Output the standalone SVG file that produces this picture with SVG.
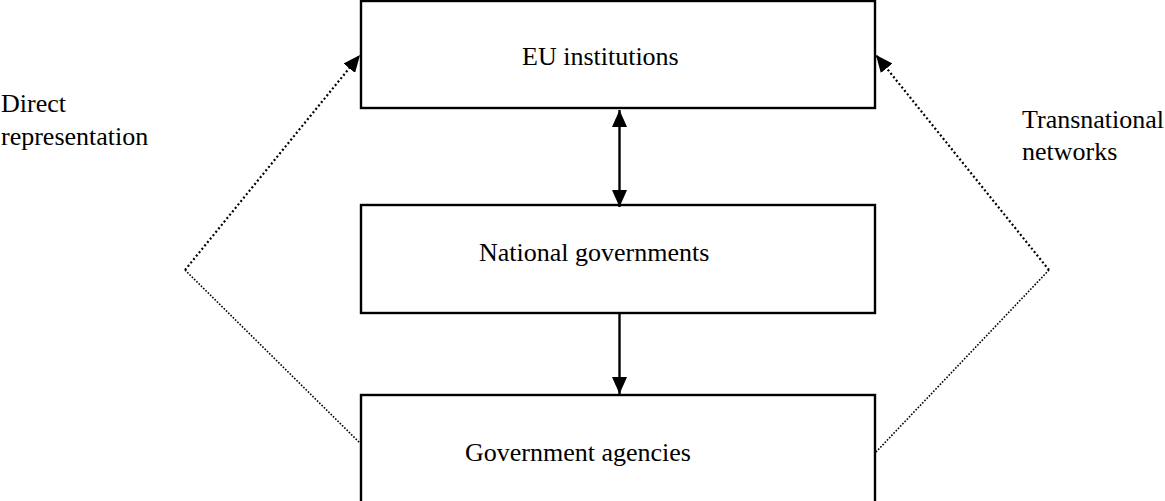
<svg xmlns="http://www.w3.org/2000/svg" width="1165" height="501" viewBox="0 0 1165 501">
<style>
.box{fill:#fff;stroke:#000;stroke-width:2.4}
.t{font-family:"Liberation Serif","Times New Roman",serif;font-size:26px;fill:#000}
.solid{stroke:#000;stroke-width:2.4;fill:none}
.dot{stroke:#000;stroke-width:2.2;fill:none;stroke-dasharray:2 2.4}
.dotthin{stroke:#000;stroke-width:1.6;fill:none;stroke-dasharray:1.6 1.6}
</style>
<defs>
<marker id="ah" viewBox="0 0 17 15" refX="17" refY="7.5" markerWidth="17" markerHeight="15" markerUnits="userSpaceOnUse" orient="auto-start-reverse">
<path d="M0,0 L17,7.5 L0,15 Z" fill="#000"/>
</marker>
</defs>
<rect width="1165" height="501" fill="#fff"/>
<g id="eu-institutions">
<rect class="box" x="361" y="1" width="514" height="107"/>
<text class="t" x="522" y="65">EU institutions</text>
</g>
<g id="national-governments">
<rect class="box" x="361" y="205" width="514" height="108"/>
<text class="t" x="479" y="261">National governments</text>
</g>
<g id="government-agencies">
<rect class="box" x="361" y="395" width="514" height="120"/>
<text class="t" x="465" y="461">Government agencies</text>
</g>
<g id="label-direct">
<text class="t" x="1" y="112">Direct</text>
<text class="t" x="1" y="145">representation</text>
</g>
<g id="label-transnational">
<text class="t" x="1022" y="128">Transnational</text>
<text class="t" x="1022" y="160">networks</text>
</g>
<g id="connectors">
<line class="solid" x1="619.5" y1="110" x2="619.5" y2="207" marker-start="url(#ah)" marker-end="url(#ah)"/>
<line class="solid" x1="619.5" y1="314" x2="619.5" y2="394" marker-end="url(#ah)"/>
<line class="dot" x1="185" y1="270" x2="360" y2="55" marker-end="url(#ah)"/>
<line class="dotthin" x1="185" y1="270" x2="360" y2="443"/>
<line class="dot" x1="1049" y1="270" x2="876" y2="55" marker-end="url(#ah)"/>
<line class="dotthin" x1="1049" y1="270" x2="876" y2="452"/>
</g>
</svg>
